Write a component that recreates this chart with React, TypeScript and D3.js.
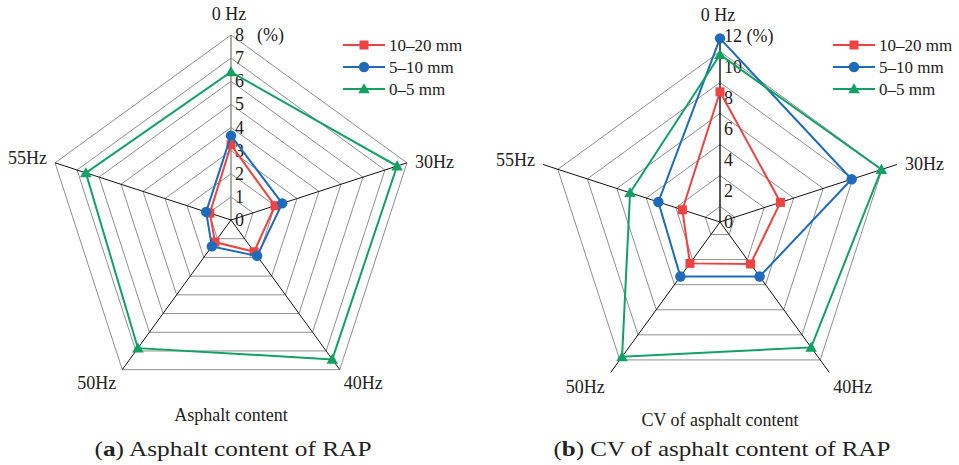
import React from "react";
import * as d3 from "d3";

// Axis order around the radar, clockwise from the top
const axes = ["0 Hz", "30Hz", "40Hz", "50Hz", "55Hz"];
const seriesNames = ["10–20 mm", "5–10 mm", "0–5 mm"];

// (a) Asphalt content (%)
const contentRed = [3.25, 2.0, 1.7, 1.18, 0.96];
const contentBlue = [3.65, 2.33, 1.92, 1.41, 1.13];
const contentGreen = [6.4, 7.55, 7.45, 6.85, 6.6];
const contentTicks = [0, 1, 2, 3, 4, 5, 6, 7, 8];

// (b) CV of asphalt content (%)
const cvRed = [8.4, 4.1, 3.35, 3.3, 2.55];
const cvBlue = [11.85, 8.93, 4.35, 4.35, 4.18];
const cvGreen = [10.8, 10.95, 10.0, 10.75, 6.1];
const cvTicks = [0, 2, 4, 6, 8, 10, 12];

const colors = ["#EE4343", "#1D6BBA", "#13A163"];
const markers = ["square", "circle", "triangle"];
const serif = "'Liberation Serif', 'Times New Roman', serif";

type RadarProps = {
  cx: number;
  cy: number;
  radius: number;
  ticks: number[];
  series: number[][];
  topTickLabel: string;
  unitX: number | null;
  legendX: number;
  title: string;
  titleY: number;
  bottomLabelY: number;
  verticalAxisColor: string;
};

function Marker({ kind, x, y, color }: { kind: string; x: number; y: number; color: string }) {
  if (kind === "square") {
    return <rect x={x - 4.5} y={y - 4.5} width={9} height={9} fill={color} />;
  }
  if (kind === "circle") {
    return <circle cx={x} cy={y} r={5.2} fill={color} />;
  }
  const s = d3.symbol().type(d3.symbolTriangle).size(58)();
  return <path d={s || ""} transform={`translate(${x},${y + 1})`} fill={color} />;
}

function Radar(p: RadarProps) {
  const max = p.ticks[p.ticks.length - 1];
  const r = d3.scaleLinear().domain([0, max]).range([0, p.radius]);
  const angle = d3
    .scalePoint<string>()
    .domain(axes)
    .range([0, (2 * Math.PI * (axes.length - 1)) / axes.length]);
  const pt = (axis: string, v: number): [number, number] => {
    const a = angle(axis) as number;
    return [p.cx + r(v) * Math.sin(a), p.cy - r(v) * Math.cos(a)];
  };
  const closed = d3.line().curve(d3.curveLinearClosed);
  const gridLevels = d3.range(1, max + 1e-9, p.ticks[1] - p.ticks[0]);

  const outer = axes.map((a) => pt(a, max));

  return (
    <g>
      {gridLevels.map((lv) => (
        <path
          key={lv}
          d={closed(axes.map((a) => pt(a, lv))) || ""}
          fill="none"
          stroke="#8f8f8f"
          strokeWidth={1}
        />
      ))}
      {axes.map((a, i) => {
        const [x, y] = outer[i];
        return (
          <line
            key={a}
            x1={p.cx}
            y1={p.cy}
            x2={x}
            y2={y}
            stroke={i === 0 ? p.verticalAxisColor : "#111"}
            strokeWidth={i === 0 ? 1.4 : 1}
          />
        );
      })}
      {p.ticks.map((t, i) => (
        <text
          key={t}
          x={p.cx + 4}
          y={p.cy - r(t) + 6}
          fontFamily={serif}
          fontSize={18}
          fill="#222"
        >
          {i === p.ticks.length - 1 ? p.topTickLabel : t}
        </text>
      ))}
      {p.unitX !== null && (
        <text x={p.unitX} y={p.cy - r(max) + 6} fontFamily={serif} fontSize={18} fill="#222">
          (%)
        </text>
      )}
      {/* axis names */}
      <text x={outer[0][0] - 2} y={outer[0][1] - 15} textAnchor="middle" fontFamily={serif} fontSize={18} fill="#222">
        {axes[0]}
      </text>
      <text x={outer[1][0] + 8} y={outer[1][1] + 5} fontFamily={serif} fontSize={18} fill="#222">
        {axes[1]}
      </text>
      <text x={outer[2][0] + 4} y={p.bottomLabelY} fontFamily={serif} fontSize={18} fill="#222">
        {axes[2]}
      </text>
      <text x={outer[3][0] - 6} y={p.bottomLabelY} textAnchor="end" fontFamily={serif} fontSize={18} fill="#222">
        {axes[3]}
      </text>
      <text x={outer[4][0] - 8} y={outer[4][1] + 1} textAnchor="end" fontFamily={serif} fontSize={18} fill="#222">
        {axes[4]}
      </text>
      {/* data */}
      {p.series.map((vals, si) => {
        const pts = axes.map((a, i) => pt(a, vals[i]));
        return (
          <g key={si}>
            <path d={closed(pts) || ""} fill="none" stroke={colors[si]} strokeWidth={2} />
            {pts.map(([x, y], i) => (
              <Marker key={i} kind={markers[si]} x={x} y={y} color={colors[si]} />
            ))}
          </g>
        );
      })}
      {/* legend */}
      {seriesNames.map((name, si) => {
        const y = 45 + si * 22;
        return (
          <g key={name}>
            <line x1={p.legendX} x2={p.legendX + 42} y1={y} y2={y} stroke={colors[si]} strokeWidth={2} />
            <Marker kind={markers[si]} x={p.legendX + 21} y={y} color={colors[si]} />
            <text x={p.legendX + 46} y={y + 6} fontFamily={serif} fontSize={17} fill="#222">
              {name}
            </text>
          </g>
        );
      })}
      <text x={p.cx} y={p.titleY} textAnchor="middle" fontFamily={serif} fontSize={18} fill="#222">
        {p.title}
      </text>
    </g>
  );
}

export default function App() {
  return (
    <svg
      width={959}
      height={465}
      viewBox="0 0 959 465"
      style={{ position: "absolute", left: 0, top: 0, background: "#fff" }}
    >
      <rect width={959} height={465} fill="#fff" />
      <Radar
        cx={231}
        cy={220}
        radius={185}
        ticks={contentTicks}
        series={[contentRed, contentBlue, contentGreen]}
        topTickLabel="8"
        unitX={257}
        legendX={343}
        title="Asphalt content"
        titleY={421}
        bottomLabelY={389}
        verticalAxisColor="#8a8a8a"
      />
      <Radar
        cx={720}
        cy={222}
        radius={186}
        ticks={cvTicks}
        series={[cvRed, cvBlue, cvGreen]}
        topTickLabel="12 (%)"
        unitX={null}
        legendX={833}
        title="CV of asphalt content"
        titleY={426}
        bottomLabelY={393}
        verticalAxisColor="#111"
      />
      <text x={233} y={456} textAnchor="middle" fontFamily={serif} fontSize={22} fill="#222" textLength={277} lengthAdjust="spacingAndGlyphs">
        (<tspan fontWeight="bold">a</tspan>) Asphalt content of RAP
      </text>
      <text x={722} y={456} textAnchor="middle" fontFamily={serif} fontSize={22} fill="#222" textLength={337} lengthAdjust="spacingAndGlyphs">
        (<tspan fontWeight="bold">b</tspan>) CV of asphalt content of RAP
      </text>
    </svg>
  );
}
